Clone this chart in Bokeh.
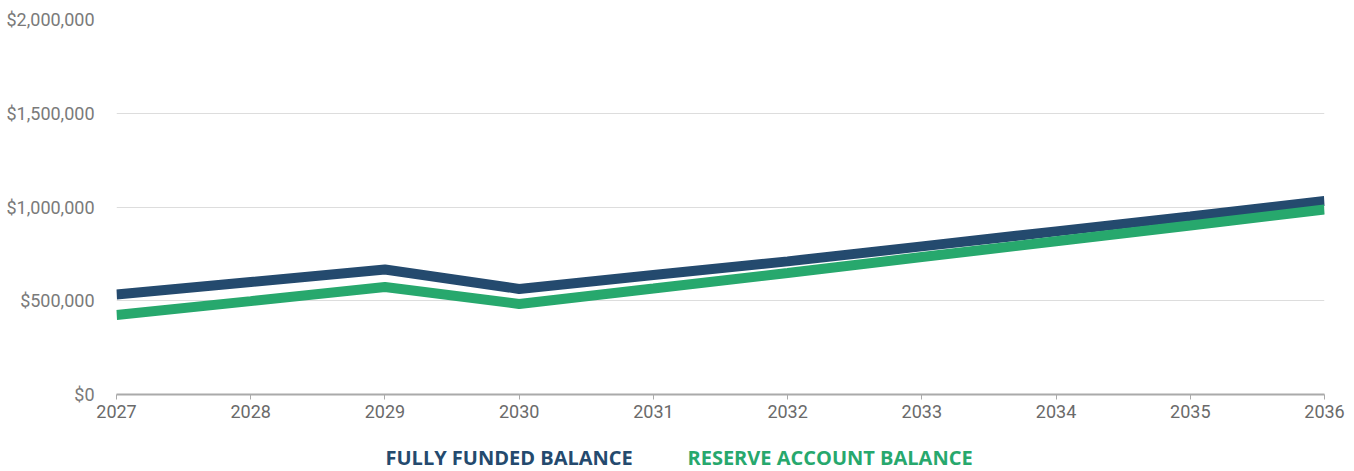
from bokeh.plotting import figure
from bokeh.models import FixedTicker, NumeralTickFormatter, Range1d
from bokeh.layouts import column
from bokeh.core.properties import value
from bokeh.embed import file_html
from bokeh.resources import INLINE

years = [2027, 2028, 2029, 2030, 2031, 2032, 2033, 2034, 2035, 2036]
fully_funded = [533000, 600000, 667000, 563000, 637000, 710000, 790000, 870000, 950000, 1032000]
reserve_account = [424000, 498000, 573000, 483000, 565000, 648000, 733000, 817000, 901000, 987000]
series_names = ["FULLY FUNDED BALANCE", "RESERVE ACCOUNT BALANCE"]
y_ticks = [0, 500000, 1000000, 1500000, 2000000]

BLUE = "#244a6e"
GREEN = "#27a86d"

p = figure(width=1346, height=420, output_backend="svg", toolbar_location=None,
           x_range=Range1d(2027, 2036), y_range=Range1d(0, 2000000),
           min_border_left=116, min_border_right=22, min_border_top=19, min_border_bottom=26)
p.outline_line_color = None
p.background_fill_color = "white"

p.line(years, fully_funded, line_color=BLUE, line_width=10)
p.line(years, reserve_account, line_color=GREEN, line_width=10)

p.xgrid.grid_line_color = None
p.ygrid.grid_line_color = "#dddddd"
p.ygrid.grid_line_width = 1

p.yaxis.ticker = FixedTicker(ticks=y_ticks)
p.yaxis.formatter = NumeralTickFormatter(format="$0,0")
p.yaxis.axis_line_color = None
p.yaxis.major_tick_line_color = None
p.yaxis.minor_tick_line_color = None
p.yaxis.major_label_standoff = 16
p.yaxis.major_label_text_font = "Roboto"
p.yaxis.major_label_text_font_size = "18px"
p.yaxis.major_label_text_color = "#7a7a7a"

p.xaxis.ticker = FixedTicker(ticks=years)
p.xaxis.axis_line_color = "#aaaaaa"
p.xaxis.axis_line_width = 2
p.xaxis.major_tick_line_color = "#aaaaaa"
p.xaxis.major_tick_in = 0
p.xaxis.major_tick_out = 5
p.xaxis.minor_tick_line_color = None
p.xaxis.major_label_standoff = 5
p.xaxis.major_label_text_font = "Roboto"
p.xaxis.major_label_text_font_size = "18px"
p.xaxis.major_label_text_color = "#6a6a6a"

# legend strip as its own small figure (its frame is aligned with the chart's frame)
H = 51
lg = figure(width=1346, height=H, output_backend="svg", toolbar_location=None,
            x_range=Range1d(116, 1324), y_range=Range1d(0, H),
            min_border_left=116, min_border_right=22, min_border_top=0, min_border_bottom=0)
lg.axis.visible = False
lg.grid.visible = False
lg.outline_line_color = None
lg.text(x=[385], y=[H - 37], text=[series_names[0]], text_color=BLUE,
        text_font=value("Open Sans"), text_font_style="bold", text_font_size="20px",
        text_baseline="middle", text_align="left")
lg.text(x=[687], y=[H - 37], text=[series_names[1]], text_color=GREEN,
        text_font=value("Open Sans"), text_font_style="bold", text_font_size="20px",
        text_baseline="middle", text_align="left")

layout = column(p, lg, spacing=0)
open("out.html", "w").write(file_html(layout, INLINE))
